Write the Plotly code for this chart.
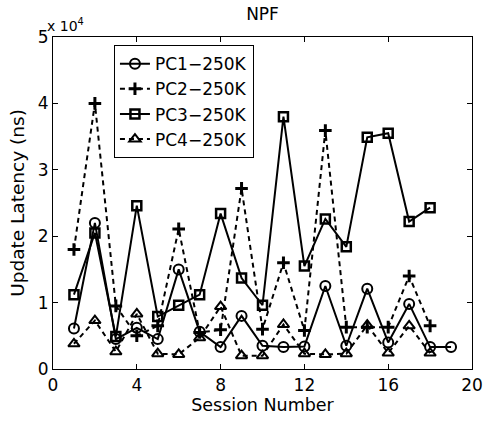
import plotly.graph_objects as go

# Session numbers and per-session update latency (ns) for each PC
sessions_pc1 = list(range(1, 20))
sessions_rest = list(range(1, 19))

pc1 = [6100, 22000, 4500, 6200, 4500, 15000, 5600, 3300, 8000, 3500,
       3300, 3400, 12500, 3500, 12100, 4000, 9800, 3300, 3300]
pc2 = [18000, 40000, 9500, 5000, 6500, 21100, 5500, 5900, 27200, 6000,
       16000, 5800, 35900, 6300, 6300, 6300, 14000, 6500]
pc3 = [11200, 20500, 4900, 24600, 7900, 9600, 11200, 23400, 13700, 9600,
       38000, 15500, 22600, 18400, 34900, 35500, 22200, 24300]
pc4 = [3800, 7300, 2600, 8300, 2300, 2200, 4700, 9400, 2000, 2000,
       6700, 2300, 2200, 2300, 6600, 2400, 6500, 2400]

x_ticks = [0, 4, 8, 12, 16, 20]
y_ticks = [0, 10000, 20000, 30000, 40000, 50000]
y_tick_text = ["0", "1", "2", "3", "4", "5"]

FONT = "DejaVu Sans, sans-serif"
DASH = "5px,4px"

series = [
    ("PC1\u2212250K", sessions_pc1, pc1, "solid", "circle-open", 10, 2),
    ("PC2\u2212250K", sessions_rest, pc2, DASH, "cross-thin-open", 9, 3),
    ("PC3\u2212250K", sessions_rest, pc3, "solid", "square-open", 9, 2.5),
    ("PC4\u2212250K", sessions_rest, pc4, DASH, "triangle-up-open", 10, 2),
]

fig = go.Figure()
for name, xs, ys, dash, symbol, size, edge in series:
    fig.add_trace(go.Scatter(
        x=xs, y=ys, name=name, mode="lines+markers",
        line=dict(color="black", width=2, dash=dash),
        marker=dict(symbol=symbol, size=size, color="black",
                    line=dict(color="black", width=edge)),
    ))

axis_common = dict(
    showline=True, linecolor="black", linewidth=1.2, mirror="allticks",
    ticks="inside", ticklen=5, tickwidth=1.2, tickcolor="black",
    showgrid=False, zeroline=False,
    tickfont=dict(family=FONT, size=17, color="black"),
)

fig.update_xaxes(
    range=[0, 20], tickvals=x_ticks,
    title=dict(text="Session Number", standoff=2,
               font=dict(family=FONT, size=17.5, color="black")),
    **axis_common,
)
fig.update_yaxes(
    range=[0, 50000], tickvals=y_ticks, ticktext=y_tick_text,
    title=dict(text="Update Latency (ns)", standoff=8,
               font=dict(family=FONT, size=18.5, color="black")),
    **axis_common,
)

fig.add_annotation(
    text="x 10<sup>4</sup>", xref="paper", yref="paper",
    x=0, y=1, xanchor="left", yanchor="bottom", xshift=-8, yshift=1,
    showarrow=False, font=dict(family=FONT, size=14, color="black"),
)

fig.update_layout(
    width=495, height=421,
    margin=dict(l=53, r=15, t=37, b=50),
    paper_bgcolor="white", plot_bgcolor="white",
    title=dict(text="NPF", x=0.5, xref="paper", xanchor="center",
               y=1 - 14 / 421, yref="container", yanchor="middle",
               font=dict(family=FONT, size=17, color="black")),
    legend=dict(
        x=0.145, y=0.976, xanchor="left", yanchor="top",
        bgcolor="white", bordercolor="black", borderwidth=1.2,
        font=dict(family=FONT, size=17, color="black"),
        itemwidth=30, tracegroupgap=0,
    ),
    showlegend=True,
)

fig.write_html("out.html")
